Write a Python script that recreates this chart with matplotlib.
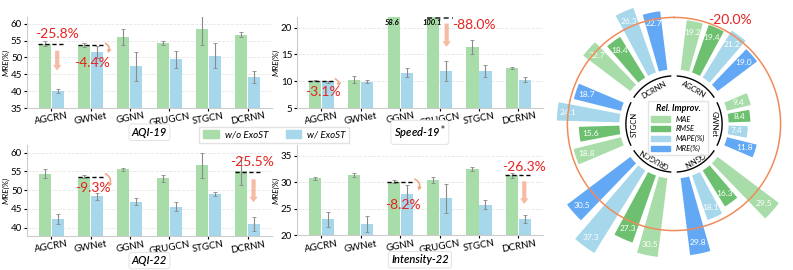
import numpy as np
import matplotlib
matplotlib.use("Agg")
import matplotlib.pyplot as plt
from matplotlib.patches import Patch, FancyArrowPatch

plt.rcParams["font.family"] = ["Lato", "DejaVu Sans"]

# ---- data ----
models = ["AGCRN", "GWNet", "GGNN", "GRUGCN", "STGCN", "DCRNN"]

aqi19_wo = [54.1, 53.8, 56.1, 54.3, 58.5, 56.8]
aqi19_wo_err = [0.8, 0.6, 2.3, 0.6, 4.7, 0.8]
aqi19_w = [40.0, 51.5, 47.4, 49.4, 50.5, 44.2]
aqi19_w_err = [0.6, 1.8, 4.3, 2.6, 3.7, 1.7]

speed19_wo = [10.1, 10.3, 58.6, 100.1, 16.4, 12.5]
speed19_wo_err = [0.1, 0.6, 0.0, 0.0, 1.3, 0.2]
speed19_w = [9.8, 9.9, 11.6, 11.9, 11.9, 10.3]
speed19_w_err = [0.2, 0.3, 0.9, 1.9, 1.1, 0.5]

aqi22_wo = [54.3, 53.5, 55.6, 53.1, 56.6, 55.1]
aqi22_wo_err = [1.2, 0.4, 0.4, 1.0, 3.4, 3.8]
aqi22_w = [42.3, 48.3, 46.9, 45.6, 49.0, 40.9]
aqi22_w_err = [1.3, 0.9, 0.9, 1.1, 0.6, 1.9]

int22_wo = [30.75, 31.3, 30.1, 30.4, 32.5, 31.3]
int22_wo_err = [0.3, 0.4, 0.3, 0.6, 0.3, 0.5]
int22_w = [23.0, 22.1, 27.7, 27.0, 25.8, 23.1]
int22_w_err = [1.4, 1.5, 1.8, 2.7, 0.8, 0.8]

# relative improvement (%) per model: MAE, RMSE, MAPE, MRE
metrics = ["MAE", "RMSE", "MAPE(%)", "MRE(%)"]
rel_improv = {
    "AGCRN": [19.2, 19.4, 21.2, 19.0],
    "GWNet": [9.4, 8.4, 7.4, 11.8],
    "GGNN": [29.5, 16.3, 18.1, 29.8],
    "GRUGCN": [30.5, 27.3, 37.3, 30.5],
    "STGCN": [18.8, 15.6, 24.1, 18.7],
    "DCRNN": [22.7, 18.4, 26.3, 22.7],
}
avg_improv = 20.0

GREEN = "#a8dca8"
BLUE = "#a6d7ea"
RED = "#e5231f"
ARROW = "#f5b49a"
metric_colors = ["#a8dca8", "#6cc070", "#a6d7ea", "#62a8f5"]

fig = plt.figure(figsize=(7.93, 2.70), dpi=100)


def bar_panel(rect, wo, wo_err, w, w_err, ylim, yticks, title):
    ax = fig.add_axes(rect)
    x = np.arange(len(models))
    bw = 0.31
    ekw = dict(ecolor="#8a8a8a", elinewidth=0.8, capsize=1.5, capthick=0.6)
    ax.bar(x - 0.165, wo, bw, yerr=wo_err, color=GREEN, error_kw=ekw, zorder=2)
    ax.bar(x + 0.165, w, bw, yerr=w_err, color=BLUE, error_kw=ekw, zorder=2)
    ax.set_xlim(-0.62, 5.62)
    ax.set_ylim(*ylim)
    ax.set_yticks(yticks)
    ax.set_xticks(x)
    ax.set_xticklabels(models, rotation=10, fontsize=7)
    ax.tick_params(axis="y", labelsize=7, length=2, pad=1.5)
    ax.tick_params(axis="x", length=2, pad=0.5)
    ax.set_ylabel("MRE(%)", fontsize=6, fontstyle="italic", labelpad=1)
    ax.grid(axis="y", color="#e6e6e6", linestyle="--", linewidth=0.6, zorder=0)
    for s in ["top", "right"]:
        ax.spines[s].set_visible(False)
    for s in ["left", "bottom"]:
        ax.spines[s].set_color("#cccccc")
        ax.spines[s].set_linewidth(0.8)
    cx = rect[0] + rect[2] / 2
    fig.text(cx, rect[1] - 0.09, title, ha="center", va="center", fontsize=8,
             fontstyle="italic", fontweight="semibold",
             bbox=dict(boxstyle="round,pad=0.25", fc="white", ec="#dddddd", lw=0.6))
    return ax


def dashed(ax, i, y):
    ax.hlines(y, i - 0.33, i + 0.34, colors="k", linestyles=(0, (3, 2)), lw=1, zorder=4)


def down_arrow(ax, x, y0, y1):
    ax.add_patch(FancyArrowPatch((x, y0), (x, y1),
                                 arrowstyle="simple,head_width=6,head_length=4,tail_width=3",
                                 color=ARROW, alpha=0.9, lw=0, zorder=5))


def curved_arrow(ax, p0, p1):
    ax.add_patch(FancyArrowPatch(p0, p1, connectionstyle="arc3,rad=-0.7",
                                 arrowstyle="simple,head_width=3.5,head_length=3,tail_width=1.2",
                                 color="#eeaa88", lw=0, zorder=5))


def red_text(ax, x, y, s):
    ax.text(x, y, s, color=RED, fontsize=10, ha="center", va="center", zorder=6)


# AQI-19
ax1 = bar_panel([0.034, 0.60, 0.309, 0.337], aqi19_wo, aqi19_wo_err, aqi19_w, aqi19_w_err,
                (35, 62), [35, 40, 45, 50, 55, 60], "AQI-19")
dashed(ax1, 0, aqi19_wo[0])
down_arrow(ax1, 0.15, 52.8, 45.3)
red_text(ax1, 0.14, 57.0, "-25.8%")
dashed(ax1, 1, aqi19_wo[1])
curved_arrow(ax1, (1.3, 54.6), (1.4, 50.6))
red_text(ax1, 1.03, 48.4, "-4.4%")

# Speed-19*
ax2 = bar_panel([0.3745, 0.60, 0.310, 0.337], speed19_wo, speed19_wo_err, speed19_w, speed19_w_err,
                (5, 22), [5, 10, 15, 20], "Speed-19$^*$")
dashed(ax2, 0, speed19_wo[0])
curved_arrow(ax2, (0.27, 10.6), (0.4, 8.5))
red_text(ax2, 0.04, 8.0, "-3.1%")
ax2.text(1.8, 20.9, f"{speed19_wo[2]}", fontsize=5.5, fontstyle="italic", fontweight="bold",
         ha="center", va="center", zorder=6)
ax2.text(2.8, 20.9, f"{speed19_wo[3]}", fontsize=5.5, fontstyle="italic", fontweight="bold",
         ha="center", va="center", zorder=6)
ax2.hlines(21.85, 2.67, 3.34, colors="#333333", linestyles=(0, (3, 2)), lw=1.2, zorder=4,
           clip_on=False)
down_arrow(ax2, 3.18, 21.3, 15.9)
red_text(ax2, 3.86, 20.6, "-88.0%")

# AQI-22
ax3 = bar_panel([0.034, 0.125, 0.309, 0.338], aqi22_wo, aqi22_wo_err, aqi22_w, aqi22_w_err,
                (37.7, 62), [40, 45, 50, 55, 60], "AQI-22")
dashed(ax3, 1, aqi22_wo[1])
curved_arrow(ax3, (1.3, 54.7), (1.41, 50.3))
red_text(ax3, 1.05, 50.5, "-9.3%")
dashed(ax3, 5, 54.8)
down_arrow(ax3, 5.15, 53.6, 46.0)
red_text(ax3, 5.1, 57.6, "-25.5%")

# Intensity-22
ax4 = bar_panel([0.3745, 0.128, 0.310, 0.335], int22_wo, int22_wo_err, int22_w, int22_w_err,
                (20, 37), [20, 25, 30, 35], "Intensity-22")
dashed(ax4, 2, int22_wo[2])
curved_arrow(ax4, (2.29, 30.8), (2.42, 28.0))
red_text(ax4, 2.06, 25.8, "-8.2%")
dashed(ax4, 5, int22_wo[5])
down_arrow(ax4, 5.15, 30.7, 25.4)
red_text(ax4, 5.15, 32.9, "-26.3%")

# shared legend
fig.legend(handles=[Patch(color=GREEN, label="w/o ExoST"), Patch(color=BLUE, label="w/ ExoST")],
           loc="center", bbox_to_anchor=(0.346, 0.50), ncol=2,
           prop=dict(style="italic", size=7), handlelength=1.6, handleheight=0.8,
           handletextpad=0.6, columnspacing=1.8, frameon=True, edgecolor="#dddddd",
           fancybox=False, borderpad=0.4)

# ---- polar chart of relative improvements ----
cx, cy, R = 674 / 793, (270 - 124) / 270, 156
pw, ph = 2 * R / 793, 2 * R / 270
axp = fig.add_axes([cx - pw / 2, cy - ph / 2, pw, ph], projection="polar")
axp.set_theta_zero_location("N")
axp.set_theta_direction(-1)
axp.set_ylim(0, 60)
axp.set_axis_off()

base = 21
offsets = np.array([-18.5, -6.2, 6.2, 18.5])
for g, name in enumerate(models):
    center = 30 + 60 * g
    vals = rel_improv[name]
    thetas = np.deg2rad(center + offsets)
    axp.bar(thetas, vals, width=np.deg2rad(9), bottom=base, color=metric_colors, zorder=2)
    for t, v in zip(thetas, vals):
        axp.text(t, base + v - 4.2, f"{v}", color="white", fontsize=6,
                 ha="center", va="center", zorder=4)
    arc = np.deg2rad(np.linspace(center - 26, center + 26, 60))
    axp.plot(arc, np.full_like(arc, 18.5), color="k", lw=1, zorder=3)
    axp.text(np.deg2rad(center), 15.3, name, fontsize=5.5, rotation=-center,
             ha="center", va="center", rotation_mode="anchor", zorder=3)

circ = np.linspace(0, 2 * np.pi, 400)
axp.plot(circ, np.full_like(circ, base + avg_improv), color="#f08c5a", lw=1.1, zorder=5)
fig.text(730 / 793, 1 - 20 / 270, f"-{avg_improv:.1f}%", color=RED, fontsize=10,
         ha="center", va="center")

leg = axp.legend(handles=[Patch(color=c, label=m) for c, m in zip(metric_colors, metrics)],
                 loc="center", bbox_to_anchor=(0.513, 0.487),
                 prop=dict(style="italic", size=5.5), title="Rel. Improv.",
                 title_fontproperties=dict(style="italic", weight="bold", size=6.5),
                 handlelength=2.5, handleheight=0.7, labelspacing=0.35,
                 frameon=True, edgecolor="#dddddd", fancybox=False, borderpad=0.4)

fig.savefig("out.png", dpi=100)
